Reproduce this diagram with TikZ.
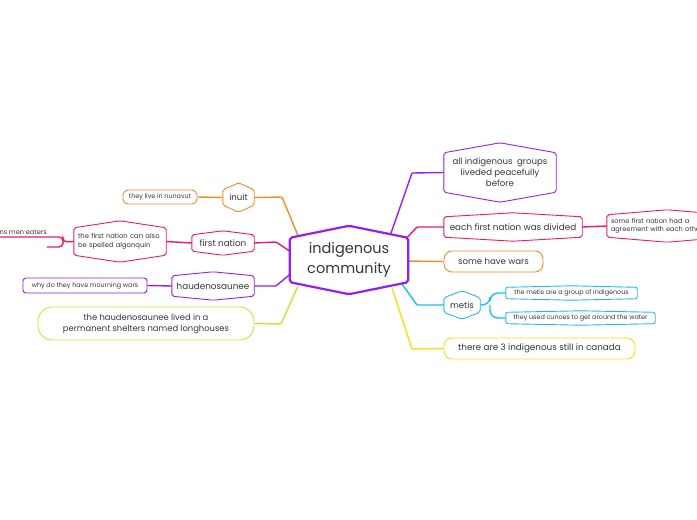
\documentclass[tikz,border=0pt]{standalone}
\usepackage{fontspec}
\setmainfont{Poppins}
\usetikzlibrary{calc}
\pgfdeclarelayer{bg}\pgfdeclarelayer{conn}\pgfdeclarelayer{shapes}
\pgfsetlayers{bg,conn,shapes,main}
\definecolor{cpurple}{RGB}{150,30,240}
\definecolor{cpink}{RGB}{238,25,110}
\definecolor{corange}{RGB}{245,140,40}
\definecolor{cblue}{RGB}{30,190,240}
\definecolor{cyellow}{RGB}{255,220,20}
\definecolor{clime}{RGB}{185,238,50}
\definecolor{txt}{RGB}{55,55,60}
\tikzset{
  box/.style={inner sep=0pt, align=center, text=txt},
  rbox/.style={box, draw=#1, fill=white, line width=0.9pt, rounded corners=7pt},
  conn/.style={draw=#1, line width=1.4pt, rounded corners=1pt},
}
\newcommand\hexshape[4]{%
\begin{pgfonlayer}{shapes}
\draw[#3, line width=#4, fill=white, rounded corners=2pt, line join=round]
 ([yshift=-#2]#1.north west) -- (#1.north) -- ([yshift=-#2]#1.north east) --
 ([yshift=#2]#1.south east) -- (#1.south) -- ([yshift=#2]#1.south west) -- cycle;
\end{pgfonlayer}}
\begin{document}
\begin{tikzpicture}[x=1pt,y=-1pt]
\begin{pgfonlayer}{bg}
\fill[white] (0,0) rectangle (697,520);
\end{pgfonlayer}
\path[use as bounding box] (0,0) rectangle (697,520);
% central
\node[box, minimum width=118pt, minimum height=68pt, font=\fontsize{14.5}{19.5}\selectfont] (c) at (349,260) {indigenous\\community};
\begin{pgfonlayer}{shapes}
\fill[black!25, opacity=0.5, rounded corners=3pt, shift={(1.2,1.8)}]
 ([yshift=-12pt]c.north west) -- (c.north) -- ([yshift=-12pt]c.north east) --
 ([yshift=11pt]c.south east) -- (c.south) -- ([yshift=11pt]c.south west) -- cycle;
\end{pgfonlayer}
\hexshape{c}{12pt}{draw=cpurple}{2.2pt}
% right side
\node[box, minimum width=112pt, minimum height=59pt, font=\fontsize{8.6}{11}\selectfont] (peace) at (500,172.5) {all indigenous\ \ groups\\liveded peacefully\\before};
\hexshape{peace}{10pt}{draw=cpurple}{0.9pt}
\node[box, minimum width=138pt, minimum height=28pt, font=\fontsize{8.8}{11}\selectfont] (divided) at (513,227) {each first nation was divided};
\hexshape{divided}{4pt}{draw=cpink}{0.9pt}
\node[box, minimum width=120pt, minimum height=32pt, inner xsep=4pt, text width=112pt, align=left, font=\fontsize{6.6}{8.6}\selectfont] (agree) at (667,226) {some first nation had a\\agreement with each other};
\hexshape{agree}{5pt}{draw=cpink}{0.9pt}
\node[rbox=corange, minimum width=99pt, minimum height=21pt, rounded corners=8pt, font=\fontsize{8.6}{11}\selectfont] (wars) at (493.5,261.5) {some have wars};
\node[box, minimum width=36pt, minimum height=28pt, font=\fontsize{8.6}{11}\selectfont] (metis) at (462,305) {metis};
\hexshape{metis}{7pt}{draw=cblue}{0.9pt}
\node[box, minimum width=131pt, minimum height=14pt, font=\fontsize{6.4}{8}\selectfont] (metis1) at (571.5,293) {the metis are a group of indigenous};
\hexshape{metis1}{1.5pt}{draw=cblue}{0.9pt}
\node[box, minimum width=149pt, minimum height=14pt, font=\fontsize{6.4}{8}\selectfont] (metis2) at (580.5,318) {they used cunoes to get around the water};
\hexshape{metis2}{1.5pt}{draw=cblue}{0.9pt}
\node[rbox=cyellow, minimum width=191pt, minimum height=21pt, rounded corners=8pt, font=\fontsize{8.8}{11}\selectfont] (canada) at (539.5,348.5) {there are 3 indigenous still in canada};
% left side
\node[box, minimum width=31pt, minimum height=29pt, font=\fontsize{8.6}{11}\selectfont] (inuit) at (238.5,197.5) {inuit};
\hexshape{inuit}{7pt}{draw=corange}{0.9pt}
\node[rbox=corange, minimum width=74pt, minimum height=14pt, rounded corners=5pt, font=\fontsize{6.4}{8}\selectfont] (nunavut) at (160,197) {they live in nunavut};
\node[box, minimum width=62pt, minimum height=24pt, font=\fontsize{8.8}{11}\selectfont] (fnation) at (223,243) {first nation};
\hexshape{fnation}{4pt}{draw=cpink}{0.9pt}
\node[box, minimum width=92pt, minimum height=41pt, inner xsep=4pt, text width=84pt, align=left, font=\fontsize{6.8}{9.3}\selectfont] (algon) at (120,241.5) {the first nation can also\\be spelled algonquin};
\hexshape{algon}{7pt}{draw=cpink}{0.9pt}
\node[box, anchor=south east, inner ysep=1.5pt, font=\fontsize{6.6}{8}\selectfont] (eaters) at (47,236) {ns men eaters};
\coordinate (eatersend) at (0,237);
\coordinate (otherend) at (47,247);
\node[box, minimum width=82pt, minimum height=28pt, font=\fontsize{8.8}{11}\selectfont] (haud) at (213,286) {haudenosaunee};
\hexshape{haud}{4pt}{draw=cpurple}{0.9pt}
\node[rbox=cpurple, minimum width=124pt, minimum height=15pt, rounded corners=3pt, font=\fontsize{6.4}{8}\selectfont] (mourn) at (85,285.5) {why do they have mourning wars};
\node[rbox=clime, minimum width=216pt, minimum height=33pt, rounded corners=14pt, font=\fontsize{8.4}{11}\selectfont] (long) at (146,323.5) {the haudenosaunee lived in a\\permanent shelters named longhouses};
% connectors
\coordinate (s1) at (390,236);
\coordinate (s2) at (404,241);
\coordinate (s3) at (404,261);
\coordinate (s4) at (402,284);
\coordinate (s5) at (392,288);
\coordinate (s6) at (299,238);
\coordinate (s7) at (294,254);
\coordinate (s8) at (294,271);
\coordinate (s9) at (298,286);
\begin{pgfonlayer}{conn}
\draw[conn=cpurple] (s1) -- (412,173) -- (peace.west);
\draw[conn=cpink] (s2) -- (417,227) -- (divided.west);
\draw[conn=cpink] (divided.east) -- (agree.west);
\draw[conn=corange] (s3) -- (wars.west);
\draw[conn=cblue] (s4) -- (417,305) -- (metis.west);
\draw[conn=cblue, rounded corners=8pt] (metis.east) -- (490,305) |- (metis1.west);
\draw[conn=cblue, rounded corners=8pt] (490,305) |- (metis2.west);
\draw[conn=cyellow] (s5) -- (412,349) -- (canada.west);
\draw[conn=corange] (s6) -- (282,197) -- (inuit.east);
\draw[conn=corange] (inuit.west) -- (nunavut.east);
\draw[conn=cpink] (s7) -- (276,242) -- (fnation.east);
\draw[conn=cpink] (fnation.west) -- (algon.west -| algon.east);
\draw[conn=cpink, rounded corners=4pt] (algon.west) -- (63,242) |- (eatersend);
\draw[conn=cpink, rounded corners=4pt] (63,242) |- (otherend);
\draw[conn=cpurple] (s8) -- (276,286) -- (haud.east);
\draw[conn=cpurple] (haud.west) -- (mourn.east);
\draw[conn=clime] (s9) -- (281,324) -- (long.east);
\end{pgfonlayer}
\end{tikzpicture}
\end{document}
